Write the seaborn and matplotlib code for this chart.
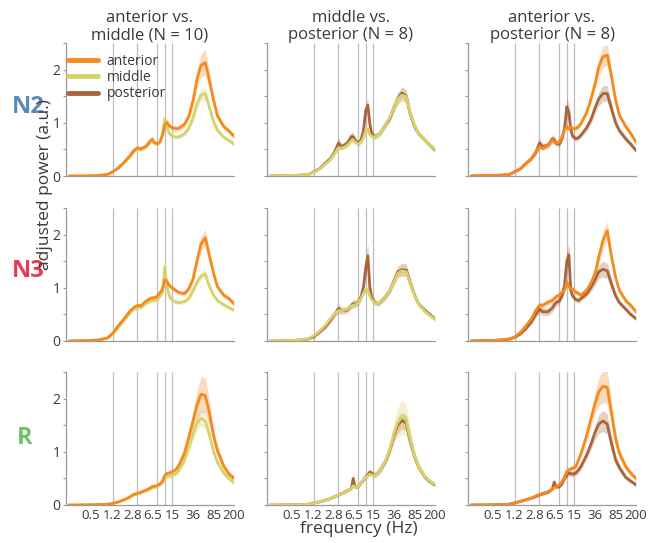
import matplotlib
matplotlib.use("Agg")
import matplotlib.pyplot as plt
from matplotlib.lines import Line2D
from matplotlib.ticker import NullLocator
import pandas as pd
import seaborn as sns

# Frequency grid shared by every spectrum (Hz)
FREQ_HZ = [0.2, 0.3, 0.5, 0.7, 1.0, 1.25, 1.6, 2.0, 2.5, 3.0, 3.5, 4.0, 5.0, 6.0, 6.5, 7.0,
           8.0, 9.0, 10.0, 11.0, 12.0, 13.0, 14.0, 16.0, 18.0, 20.0, 25.0, 30.0, 36.0, 42.0,
           50.0, 60.0, 70.0, 85.0, 100.0, 130.0, 160.0, 200.0]

# ---- anterior vs. middle (N = 10) ----
N2_AM_ANTERIOR = [0.0, 0.0, 0.005, 0.01, 0.03, 0.08, 0.16, 0.26, 0.37, 0.48, 0.53, 0.51, 0.56, 0.66, 0.69, 0.63, 0.61, 0.64, 0.77,
                  0.96, 1.01, 0.96, 0.92, 0.9, 0.89, 0.9, 0.97, 1.12, 1.42, 1.8, 2.08, 2.13, 1.84, 1.42, 1.13, 0.93, 0.85, 0.75]
N2_AM_MIDDLE = [0.0, 0.0, 0.005, 0.01, 0.03, 0.08, 0.15, 0.25, 0.35, 0.46, 0.52, 0.5, 0.55, 0.66, 0.7, 0.62, 0.6, 0.64, 0.8,
                1.08, 0.95, 0.82, 0.77, 0.74, 0.73, 0.74, 0.79, 0.9, 1.1, 1.35, 1.52, 1.55, 1.32, 1.02, 0.86, 0.73, 0.67, 0.6]
N3_AM_ANTERIOR = [0.0, 0.005, 0.01, 0.02, 0.06, 0.15, 0.3, 0.42, 0.55, 0.63, 0.67, 0.66, 0.75, 0.8, 0.81, 0.81, 0.84, 0.91, 0.98,
                  1.15, 1.12, 1.06, 1.02, 0.98, 0.94, 0.91, 0.89, 0.98, 1.17, 1.49, 1.82, 1.94, 1.64, 1.27, 1.02, 0.86, 0.8, 0.7]
N3_AM_MIDDLE = [0.0, 0.005, 0.01, 0.02, 0.05, 0.13, 0.27, 0.39, 0.52, 0.6, 0.63, 0.63, 0.71, 0.75, 0.76, 0.76, 0.78, 0.84, 0.92,
                1.4, 1.05, 0.88, 0.8, 0.75, 0.73, 0.72, 0.74, 0.8, 0.95, 1.1, 1.22, 1.26, 1.05, 0.86, 0.76, 0.68, 0.63, 0.58]
R_AM_ANTERIOR = [0.0, 0.0, 0.005, 0.008, 0.015, 0.03, 0.06, 0.1, 0.15, 0.2, 0.22, 0.24, 0.28, 0.32, 0.35, 0.35, 0.37, 0.4, 0.45,
                 0.56, 0.59, 0.6, 0.61, 0.64, 0.68, 0.75, 0.97, 1.27, 1.58, 1.86, 2.08, 2.06, 1.77, 1.3, 1.02, 0.73, 0.59, 0.5]
R_AM_MIDDLE = [0.0, 0.0, 0.005, 0.008, 0.015, 0.03, 0.06, 0.1, 0.14, 0.19, 0.21, 0.23, 0.27, 0.31, 0.33, 0.33, 0.35, 0.38, 0.42,
               0.5, 0.53, 0.54, 0.55, 0.57, 0.6, 0.66, 0.83, 1.08, 1.33, 1.53, 1.63, 1.58, 1.35, 1.0, 0.8, 0.6, 0.5, 0.42]

# ---- middle vs. posterior (N = 8) ----
N2_MP_MIDDLE = [0.0, 0.005, 0.01, 0.015, 0.03, 0.07, 0.13, 0.22, 0.31, 0.43, 0.53, 0.52, 0.57, 0.66, 0.68, 0.64, 0.6, 0.64, 0.72,
                0.86, 0.88, 0.78, 0.75, 0.73, 0.76, 0.8, 0.96, 1.1, 1.3, 1.45, 1.52, 1.49, 1.2, 0.95, 0.8, 0.68, 0.58, 0.5]
N2_MP_POSTERIOR = [0.0, 0.005, 0.01, 0.015, 0.03, 0.08, 0.14, 0.24, 0.33, 0.46, 0.62, 0.55, 0.61, 0.74, 0.74, 0.68, 0.61, 0.68, 0.86,
                   1.24, 1.33, 0.99, 0.8, 0.74, 0.77, 0.8, 0.96, 1.08, 1.3, 1.46, 1.56, 1.5, 1.18, 0.93, 0.8, 0.68, 0.58, 0.49]
N3_MP_MIDDLE = [0.0, 0.005, 0.01, 0.02, 0.05, 0.1, 0.19, 0.29, 0.42, 0.52, 0.57, 0.57, 0.6, 0.66, 0.67, 0.68, 0.72, 0.8, 0.9,
                0.98, 0.95, 0.85, 0.78, 0.72, 0.7, 0.73, 0.82, 0.95, 1.12, 1.27, 1.32, 1.3, 1.1, 0.85, 0.7, 0.56, 0.48, 0.41]
N3_MP_POSTERIOR = [0.0, 0.005, 0.01, 0.02, 0.04, 0.08, 0.17, 0.26, 0.39, 0.51, 0.61, 0.57, 0.58, 0.67, 0.7, 0.7, 0.73, 0.83, 1.02,
                   1.39, 1.6, 1.02, 0.83, 0.73, 0.7, 0.73, 0.83, 0.95, 1.14, 1.3, 1.34, 1.33, 1.11, 0.86, 0.7, 0.58, 0.5, 0.42]
R_MP_MIDDLE = [0.0, 0.0, 0.003, 0.006, 0.015, 0.04, 0.06, 0.09, 0.12, 0.16, 0.19, 0.22, 0.27, 0.31, 0.36, 0.34, 0.34, 0.41, 0.47,
               0.52, 0.55, 0.58, 0.57, 0.55, 0.6, 0.66, 0.83, 1.05, 1.36, 1.55, 1.66, 1.6, 1.26, 0.93, 0.73, 0.54, 0.45, 0.39]
R_MP_POSTERIOR = [0.0, 0.0, 0.003, 0.006, 0.015, 0.04, 0.06, 0.09, 0.12, 0.16, 0.19, 0.22, 0.27, 0.31, 0.5, 0.34, 0.34, 0.41, 0.47,
                  0.53, 0.57, 0.62, 0.6, 0.56, 0.6, 0.66, 0.82, 1.03, 1.32, 1.5, 1.59, 1.54, 1.22, 0.91, 0.72, 0.53, 0.44, 0.38]

# ---- anterior vs. posterior (N = 8) ----
N2_AP_ANTERIOR = [0.0, 0.005, 0.01, 0.015, 0.03, 0.08, 0.14, 0.24, 0.33, 0.46, 0.55, 0.52, 0.58, 0.68, 0.65, 0.61, 0.64, 0.74, 0.86,
                  0.93, 0.89, 0.93, 0.89, 0.89, 0.93, 0.99, 1.18, 1.43, 1.74, 2.05, 2.24, 2.27, 1.93, 1.43, 1.14, 0.93, 0.8, 0.64]
N2_AP_POSTERIOR = [0.0, 0.005, 0.01, 0.015, 0.03, 0.08, 0.14, 0.24, 0.33, 0.44, 0.62, 0.55, 0.58, 0.7, 0.68, 0.62, 0.6, 0.7, 0.9,
                   1.3, 1.2, 0.88, 0.75, 0.7, 0.72, 0.77, 0.9, 1.05, 1.28, 1.45, 1.55, 1.55, 1.3, 1.0, 0.85, 0.7, 0.6, 0.48]
N3_AP_ANTERIOR = [0.0, 0.005, 0.01, 0.02, 0.04, 0.08, 0.17, 0.29, 0.42, 0.58, 0.67, 0.67, 0.73, 0.76, 0.8, 0.83, 0.86, 0.92, 0.95,
                  1.11, 1.02, 0.98, 0.98, 0.92, 0.89, 0.86, 0.95, 1.08, 1.27, 1.58, 1.89, 2.07, 1.64, 1.2, 0.95, 0.76, 0.67, 0.55]
N3_AP_POSTERIOR = [0.0, 0.005, 0.01, 0.02, 0.035, 0.07, 0.14, 0.24, 0.36, 0.5, 0.6, 0.55, 0.55, 0.62, 0.68, 0.72, 0.75, 0.85, 1.05,
                   1.5, 1.62, 0.95, 0.85, 0.78, 0.76, 0.8, 0.88, 1.0, 1.15, 1.3, 1.35, 1.32, 1.1, 0.85, 0.72, 0.6, 0.5, 0.42]
R_AP_ANTERIOR = [0.0, 0.0, 0.003, 0.006, 0.015, 0.04, 0.07, 0.1, 0.13, 0.17, 0.2, 0.22, 0.25, 0.3, 0.33, 0.34, 0.38, 0.44, 0.53,
                 0.63, 0.66, 0.68, 0.69, 0.72, 0.85, 0.97, 1.29, 1.6, 1.91, 2.13, 2.23, 2.21, 1.79, 1.25, 0.97, 0.72, 0.6, 0.5]
R_AP_POSTERIOR = [0.0, 0.0, 0.003, 0.006, 0.015, 0.04, 0.07, 0.1, 0.13, 0.16, 0.19, 0.21, 0.24, 0.3, 0.43, 0.34, 0.34, 0.4, 0.5,
                  0.56, 0.6, 0.59, 0.58, 0.6, 0.66, 0.73, 0.93, 1.13, 1.37, 1.52, 1.58, 1.52, 1.2, 0.85, 0.7, 0.52, 0.45, 0.38]

# ---- standard errors of the mean ----
N2_AM_ANTERIOR_SEM = [0.002, 0.003, 0.004, 0.006, 0.01, 0.015, 0.02, 0.025, 0.03, 0.04, 0.04, 0.04, 0.04, 0.05, 0.05, 0.04, 0.04, 0.04, 0.05,
                      0.07, 0.06, 0.05, 0.05, 0.05, 0.05, 0.05, 0.06, 0.08, 0.11, 0.16, 0.22, 0.24, 0.17, 0.1, 0.07, 0.05, 0.05, 0.05]
N2_AM_MIDDLE_SEM = [0.002, 0.003, 0.004, 0.006, 0.01, 0.015, 0.02, 0.025, 0.03, 0.04, 0.05, 0.04, 0.04, 0.05, 0.06, 0.04, 0.04, 0.04, 0.06,
                    0.1, 0.08, 0.05, 0.04, 0.04, 0.04, 0.04, 0.05, 0.06, 0.08, 0.1, 0.12, 0.12, 0.1, 0.07, 0.05, 0.04, 0.04, 0.04]
N3_AM_ANTERIOR_SEM = [0.002, 0.003, 0.004, 0.006, 0.01, 0.02, 0.03, 0.035, 0.04, 0.04, 0.04, 0.04, 0.04, 0.04, 0.04, 0.04, 0.04, 0.04, 0.05,
                      0.07, 0.06, 0.05, 0.05, 0.05, 0.04, 0.04, 0.05, 0.06, 0.08, 0.11, 0.14, 0.16, 0.12, 0.08, 0.06, 0.05, 0.05, 0.05]
N3_AM_MIDDLE_SEM = [0.002, 0.003, 0.004, 0.006, 0.01, 0.02, 0.03, 0.035, 0.04, 0.04, 0.04, 0.04, 0.04, 0.04, 0.04, 0.04, 0.04, 0.04, 0.06,
                    0.15, 0.08, 0.05, 0.04, 0.04, 0.04, 0.04, 0.04, 0.05, 0.06, 0.07, 0.08, 0.08, 0.07, 0.05, 0.04, 0.04, 0.04, 0.04]
R_AM_ANTERIOR_SEM = [0.002, 0.002, 0.003, 0.004, 0.005, 0.01, 0.015, 0.02, 0.02, 0.025, 0.025, 0.03, 0.03, 0.03, 0.04, 0.03, 0.03, 0.03, 0.04,
                     0.05, 0.05, 0.05, 0.05, 0.05, 0.06, 0.07, 0.1, 0.15, 0.2, 0.27, 0.33, 0.33, 0.25, 0.15, 0.1, 0.07, 0.06, 0.05]
R_AM_MIDDLE_SEM = [0.002, 0.002, 0.003, 0.004, 0.005, 0.01, 0.015, 0.02, 0.02, 0.025, 0.025, 0.03, 0.03, 0.03, 0.03, 0.03, 0.03, 0.03, 0.03,
                   0.04, 0.04, 0.04, 0.04, 0.04, 0.05, 0.05, 0.07, 0.09, 0.12, 0.15, 0.16, 0.15, 0.12, 0.08, 0.06, 0.05, 0.04, 0.04]

N2_MP_MIDDLE_SEM = [0.002, 0.003, 0.004, 0.006, 0.01, 0.015, 0.02, 0.025, 0.03, 0.04, 0.05, 0.04, 0.04, 0.05, 0.05, 0.04, 0.04, 0.04, 0.05,
                    0.06, 0.06, 0.05, 0.04, 0.04, 0.04, 0.05, 0.06, 0.07, 0.09, 0.11, 0.13, 0.12, 0.1, 0.07, 0.05, 0.04, 0.04, 0.04]
N2_MP_POSTERIOR_SEM = [0.002, 0.003, 0.004, 0.006, 0.01, 0.015, 0.02, 0.03, 0.04, 0.06, 0.09, 0.06, 0.06, 0.08, 0.08, 0.06, 0.05, 0.06, 0.08,
                       0.12, 0.12, 0.08, 0.05, 0.05, 0.05, 0.05, 0.06, 0.07, 0.09, 0.11, 0.12, 0.12, 0.1, 0.07, 0.05, 0.04, 0.04, 0.04]
N3_MP_MIDDLE_SEM = [0.002, 0.003, 0.004, 0.006, 0.01, 0.015, 0.02, 0.03, 0.04, 0.05, 0.05, 0.05, 0.05, 0.05, 0.05, 0.05, 0.05, 0.05, 0.05,
                    0.06, 0.06, 0.05, 0.04, 0.04, 0.04, 0.04, 0.05, 0.06, 0.07, 0.08, 0.09, 0.09, 0.07, 0.05, 0.04, 0.04, 0.04, 0.04]
N3_MP_POSTERIOR_SEM = [0.002, 0.003, 0.004, 0.006, 0.01, 0.015, 0.03, 0.04, 0.05, 0.06, 0.09, 0.07, 0.06, 0.07, 0.08, 0.07, 0.07, 0.07, 0.1,
                       0.18, 0.22, 0.1, 0.06, 0.05, 0.05, 0.05, 0.06, 0.07, 0.09, 0.11, 0.12, 0.12, 0.1, 0.07, 0.05, 0.04, 0.04, 0.04]
R_MP_MIDDLE_SEM = [0.002, 0.002, 0.003, 0.004, 0.005, 0.01, 0.015, 0.02, 0.02, 0.025, 0.025, 0.03, 0.03, 0.03, 0.03, 0.03, 0.03, 0.03, 0.03,
                   0.04, 0.04, 0.04, 0.04, 0.04, 0.05, 0.06, 0.08, 0.12, 0.2, 0.28, 0.32, 0.3, 0.22, 0.12, 0.08, 0.05, 0.04, 0.04]
R_MP_POSTERIOR_SEM = [0.002, 0.002, 0.003, 0.004, 0.005, 0.01, 0.015, 0.02, 0.02, 0.025, 0.025, 0.03, 0.03, 0.03, 0.08, 0.03, 0.03, 0.03, 0.04,
                      0.05, 0.05, 0.06, 0.05, 0.05, 0.05, 0.06, 0.07, 0.09, 0.12, 0.15, 0.16, 0.15, 0.12, 0.08, 0.06, 0.05, 0.04, 0.04]

N2_AP_ANTERIOR_SEM = [0.002, 0.003, 0.004, 0.006, 0.01, 0.015, 0.02, 0.025, 0.03, 0.04, 0.05, 0.04, 0.04, 0.05, 0.05, 0.04, 0.04, 0.04, 0.05,
                      0.05, 0.05, 0.05, 0.05, 0.05, 0.05, 0.05, 0.07, 0.09, 0.12, 0.17, 0.2, 0.2, 0.16, 0.1, 0.07, 0.05, 0.05, 0.05]
N2_AP_POSTERIOR_SEM = [0.002, 0.003, 0.004, 0.006, 0.01, 0.015, 0.02, 0.03, 0.04, 0.06, 0.09, 0.06, 0.06, 0.08, 0.08, 0.06, 0.05, 0.06, 0.08,
                       0.18, 0.15, 0.07, 0.05, 0.05, 0.05, 0.05, 0.06, 0.08, 0.1, 0.13, 0.15, 0.15, 0.12, 0.08, 0.06, 0.05, 0.04, 0.04]
N3_AP_ANTERIOR_SEM = [0.002, 0.003, 0.004, 0.006, 0.01, 0.015, 0.03, 0.04, 0.05, 0.06, 0.07, 0.06, 0.06, 0.06, 0.06, 0.06, 0.06, 0.06, 0.06,
                      0.06, 0.06, 0.05, 0.05, 0.05, 0.05, 0.05, 0.06, 0.08, 0.1, 0.14, 0.17, 0.18, 0.14, 0.08, 0.06, 0.05, 0.05, 0.05]
N3_AP_POSTERIOR_SEM = [0.002, 0.003, 0.004, 0.006, 0.01, 0.015, 0.03, 0.04, 0.05, 0.06, 0.08, 0.07, 0.07, 0.08, 0.08, 0.07, 0.07, 0.07, 0.1,
                       0.18, 0.2, 0.1, 0.06, 0.05, 0.05, 0.05, 0.06, 0.08, 0.1, 0.13, 0.15, 0.14, 0.11, 0.07, 0.05, 0.04, 0.04, 0.04]
R_AP_ANTERIOR_SEM = [0.002, 0.002, 0.003, 0.004, 0.005, 0.01, 0.015, 0.02, 0.02, 0.025, 0.025, 0.03, 0.03, 0.03, 0.04, 0.03, 0.03, 0.03, 0.04,
                     0.05, 0.05, 0.05, 0.05, 0.05, 0.06, 0.07, 0.1, 0.15, 0.2, 0.27, 0.3, 0.3, 0.25, 0.15, 0.1, 0.07, 0.06, 0.05]
R_AP_POSTERIOR_SEM = [0.002, 0.002, 0.003, 0.004, 0.005, 0.01, 0.015, 0.02, 0.02, 0.025, 0.025, 0.03, 0.03, 0.03, 0.08, 0.03, 0.03, 0.03, 0.04,
                      0.05, 0.05, 0.05, 0.05, 0.05, 0.05, 0.06, 0.08, 0.1, 0.14, 0.18, 0.2, 0.19, 0.15, 0.1, 0.07, 0.05, 0.04, 0.04]

REGION_COLORS = {"anterior": "#F58A1F", "middle": "#D6D36C", "posterior": "#A9653C"}
STAGE_LABELS = ["N2", "N3", "R"]
STAGE_COLORS = ["#5A8BB6", "#E63B53", "#6EBF6E"]
COLUMN_TITLES = ["anterior vs.\nmiddle (N = 10)", "middle vs.\nposterior (N = 8)", "anterior vs.\nposterior (N = 8)"]
BAND_EDGES_HZ = [1.25, 3.5, 8.0, 11.0, 15.0]
XTICKS_HZ = [0.5, 1.2, 2.8, 6.5, 15, 36, 85, 200]
XTICK_LABELS = ["0.5", "1.2", "2.8", "6.5", "15", "36", "85", "200"]
YTICKS = [0, 0.5, 1, 1.5, 2, 2.5]
YTICK_LABELS = ["0", "", "1", "", "2", ""]

# panels[row][col] -> list of (region, mean, sem) in drawing order
PANELS = [
    [[("middle", N2_AM_MIDDLE, N2_AM_MIDDLE_SEM), ("anterior", N2_AM_ANTERIOR, N2_AM_ANTERIOR_SEM)],
     [("posterior", N2_MP_POSTERIOR, N2_MP_POSTERIOR_SEM), ("middle", N2_MP_MIDDLE, N2_MP_MIDDLE_SEM)],
     [("posterior", N2_AP_POSTERIOR, N2_AP_POSTERIOR_SEM), ("anterior", N2_AP_ANTERIOR, N2_AP_ANTERIOR_SEM)]],
    [[("middle", N3_AM_MIDDLE, N3_AM_MIDDLE_SEM), ("anterior", N3_AM_ANTERIOR, N3_AM_ANTERIOR_SEM)],
     [("posterior", N3_MP_POSTERIOR, N3_MP_POSTERIOR_SEM), ("middle", N3_MP_MIDDLE, N3_MP_MIDDLE_SEM)],
     [("posterior", N3_AP_POSTERIOR, N3_AP_POSTERIOR_SEM), ("anterior", N3_AP_ANTERIOR, N3_AP_ANTERIOR_SEM)]],
    [[("middle", R_AM_MIDDLE, R_AM_MIDDLE_SEM), ("anterior", R_AM_ANTERIOR, R_AM_ANTERIOR_SEM)],
     [("posterior", R_MP_POSTERIOR, R_MP_POSTERIOR_SEM), ("middle", R_MP_MIDDLE, R_MP_MIDDLE_SEM)],
     [("posterior", R_AP_POSTERIOR, R_AP_POSTERIOR_SEM), ("anterior", R_AP_ANTERIOR, R_AP_ANTERIOR_SEM)]],
]

sns.set_theme(style="white")
plt.rcParams["font.family"] = ["Open Sans", "DejaVu Sans"]
TEXT_COLOR = "#3a3a3a"
AXIS_COLOR = "#9a9a9a"

W, H = 650, 543
fig = plt.figure(figsize=(W / 100, H / 100), dpi=100)

AX_LEFTS = [66, 267, 468]
AX_BOTTOMS = [176, 341, 505]
AX_W, AX_H = 168, 133

for r in range(3):
    for c in range(3):
        ax = fig.add_axes([AX_LEFTS[c] / W, 1 - AX_BOTTOMS[r] / H, AX_W / W, AX_H / H])
        ax.set_xscale("log")
        ax.vlines(BAND_EDGES_HZ, 0, 2.5, color="#bdbdbd", lw=0.9, zorder=1)
        for region, mean, sem in PANELS[r][c]:
            df = pd.DataFrame({"freq": FREQ_HZ, "power": mean, "sem": sem})
            color = REGION_COLORS[region]
            ax.fill_between(df["freq"], df["power"] - df["sem"], df["power"] + df["sem"],
                            color=color, alpha=0.3, lw=0, zorder=2)
            sns.lineplot(data=df, x="freq", y="power", color=color, lw=2.0, ax=ax,
                         zorder=3, errorbar=None)
        ax.set_xlim(0.175, 200)
        ax.set_ylim(0, 2.5)
        ax.set_xlabel("")
        ax.set_ylabel("")
        for side in ("top", "right"):
            ax.spines[side].set_visible(False)
        for side in ("left", "bottom"):
            ax.spines[side].set_color(AXIS_COLOR)
            ax.spines[side].set_linewidth(0.9)
        ax.set_yticks(YTICKS)
        ax.set_yticklabels(YTICK_LABELS if c == 0 else [""] * len(YTICKS))
        ax.set_xticks(XTICKS_HZ)
        ax.set_xticklabels(XTICK_LABELS if r == 2 else [""] * len(XTICKS_HZ))
        ax.xaxis.set_minor_locator(NullLocator())
        ax.tick_params(axis="y", direction="out", length=2.5, width=0.8, color=AXIS_COLOR,
                       labelsize=10, labelcolor=TEXT_COLOR, pad=1.5, left=True)
        ax.tick_params(axis="x", length=0, labelsize=9.5, labelcolor=TEXT_COLOR, pad=3)
        if r == 0:
            ax.set_title(COLUMN_TITLES[c], fontsize=12, color=TEXT_COLOR, pad=1, linespacing=1.1)
        if r == 0 and c == 0:
            handles = [Line2D([], [], color=REGION_COLORS[k], lw=3.5) for k in ("anterior", "middle", "posterior")]
            ax.legend(handles, ["anterior", "middle", "posterior"], loc="upper left",
                      bbox_to_anchor=(0.01, 0.92), frameon=False, fontsize=10, labelcolor=TEXT_COLOR,
                      handlelength=2.2, handletextpad=0.6, labelspacing=0.1, borderpad=0, borderaxespad=0)

for label, color, x, y in zip(STAGE_LABELS, STAGE_COLORS, [28, 28, 25], [107, 271, 438]):
    fig.text(x / W, 1 - y / H, label, color=color, fontsize=17, fontweight="bold",
             ha="center", va="center")

fig.text(45 / W, 1 - 185 / H, "adjusted power (a.u.)", rotation=90, fontsize=12.5,
         color=TEXT_COLOR, ha="center", va="center")
fig.text(359 / W, 1 - 529 / H, "frequency (Hz)", fontsize=12.5, color=TEXT_COLOR,
         ha="center", va="center")

fig.savefig("out.png", dpi=100)
